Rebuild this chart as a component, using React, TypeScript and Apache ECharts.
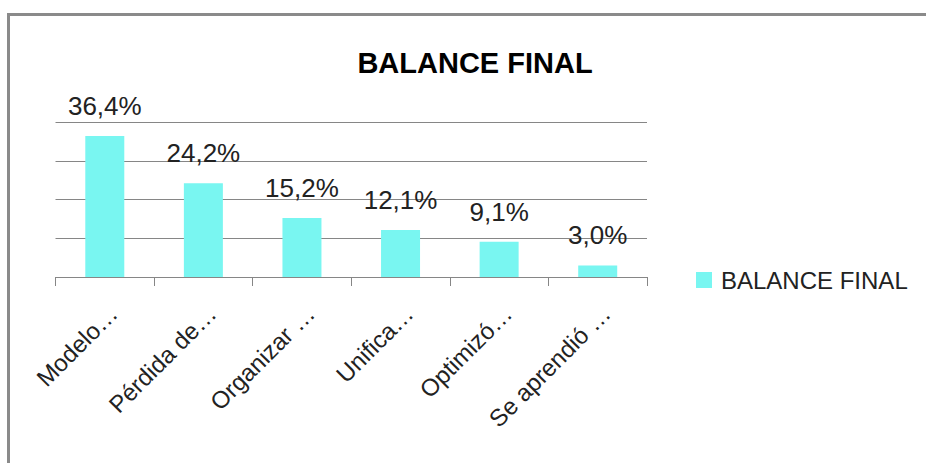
import React, { useEffect, useRef } from "react";
import * as echarts from "echarts";

const categories = ["Modelo…", "Pérdida de…", "Organizar …", "Unifica…", "Optimizó…", "Se aprendió …"];
const values = [36.4, 24.2, 15.2, 12.1, 9.1, 3.0];
const seriesName = "BALANCE FINAL";
const titleText = "BALANCE FINAL";

export default function App() {
  const ref = useRef<HTMLDivElement>(null);
  useEffect(() => {
    if (!ref.current) return;
    const chart = echarts.init(ref.current, undefined, { renderer: "svg" });
    const font = "'Liberation Sans', Arial, sans-serif";
    chart.setOption({
      animation: false,
      backgroundColor: "#ffffff",
      title: {
        text: titleText,
        left: 470,
        top: 43,
        textAlign: "center",
        textStyle: { fontFamily: font, fontWeight: "bold", fontSize: 29, color: "#000000" },
      },
      legend: {
        data: [seriesName],
        left: 691,
        top: 263,
        icon: "rect",
        itemWidth: 16,
        itemHeight: 16,
        textStyle: { fontFamily: font, fontSize: 24, color: "#222222", padding: [0, 0, 0, 4] },
      },
      grid: { left: 55.5, right: 279, top: 122, bottom: 186, containLabel: false },
      xAxis: {
        type: "category",
        data: categories,
        axisLine: { lineStyle: { color: "#868686", width: 1 } },
        axisTick: { show: true, length: 9, lineStyle: { color: "#868686" } },
        axisLabel: {
          interval: 0,
          rotate: 45,
          margin: 24,
          verticalAlign: "top",
          fontFamily: font,
          fontSize: 24,
          color: "#222222",
        },
      },
      yAxis: {
        type: "value",
        min: 0,
        max: 40,
        interval: 10,
        axisLabel: { show: false },
        axisLine: { show: false },
        axisTick: { show: false },
        splitLine: { lineStyle: { color: "#868686", width: 1 } },
      },
      series: [
        {
          name: seriesName,
          type: "bar",
          data: values,
          barWidth: 39,
          itemStyle: { color: "#79F6F1" },
          label: {
            show: true,
            position: "top",
            distance: 17,
            fontFamily: font,
            fontSize: 26,
            color: "#222222",
            formatter: (p: any) => p.value.toFixed(1).replace(".", ",") + "%",
          },
        },
      ],
      graphic: [
        {
          type: "rect",
          shape: { x: 8.5, y: 14.5, width: 1000, height: 1000 },
          style: { fill: "none", stroke: "#8a8a8a", lineWidth: 3 },
          silent: true,
        },
      ],
    });
    return () => chart.dispose();
  }, []);
  return (
    <div
      ref={ref}
      style={{ position: "absolute", left: 0, top: 0, width: 926, height: 463 }}
    />
  );
}
